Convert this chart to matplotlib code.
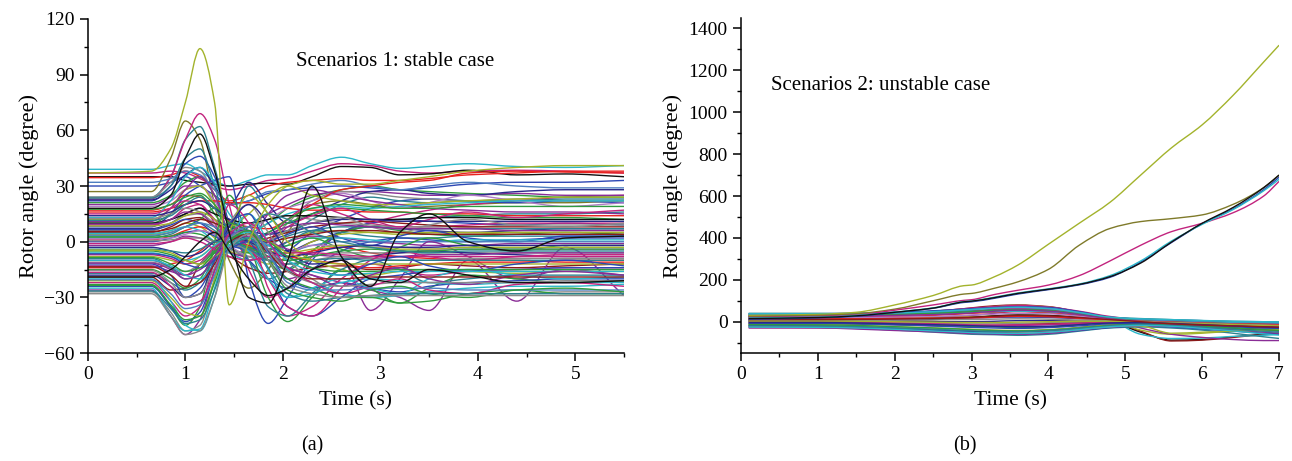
import numpy as np
import matplotlib
matplotlib.use("Agg")
import matplotlib.pyplot as plt
from matplotlib.path import Path
from matplotlib.patches import PathPatch
from matplotlib.ticker import MultipleLocator

plt.rcParams["font.family"] = ["Liberation Serif", "DejaVu Serif"]

# ---- panel (a): stable case, rotor angle (deg) read at these times (s)
time_a = [0, 0.65, 0.85, 1.0, 1.15, 1.3, 1.45, 1.65, 1.85, 2.05, 2.3, 2.6, 2.9, 3.2, 3.5, 3.9, 4.4, 4.9, 5.5]

angles_a_upper = [
    [39, 39, 41, 42, 38, 33, 30, 33, 36, 36, 41, 45.5, 42, 39.5, 40.5, 42, 40.5, 40, 41],
    [37, 37, 38, 37, 34, 30, 28, 30, 33, 34, 38, 42, 41, 38, 37, 38, 38.5, 38, 37],
    [35, 35, 35, 33, 32, 31, 30, 31, 31.5, 31, 35, 40.5, 40, 36, 36.5, 38.5, 36, 36.5, 35],
    [34.5, 34.5, 36, 38, 35, 28, 22, 25, 30, 32, 33, 34, 33, 33, 34, 36, 37, 38, 38],
    [30, 30, 32, 35, 30, 25, 20, 22, 26, 28, 29, 30, 29, 28, 29, 31, 32, 32, 33],
    [27, 27, 45, 65, 55, 20, -10, -25, -15, 5, 20, 22, 20, 18, 19, 20, 21, 21, 22],
    [24, 24, 35, 55, 62, 40, 10, -10, -20, -15, -5, 5, 10, 12, 13, 14, 15, 15, 16],
    [23, 23, 35, 55, 69, 55, 20, -15, -30, -25, -8, 5, 10, 14, 17, 20, 22, 24, 25],
    [22, 22, 30, 42, 46, 35, 10, -5, -10, -5, 5, 12, 18, 22, 23, 22, 21, 22, 21],
    [21, 21, 25, 32, 35, 25, 10, 5, 10, 18, 24, 28, 30, 28, 27, 26, 25, 24, 24],
    [20, 20, 24, 30, 30, 22, 12, 10, 15, 20, 25, 27, 27, 26, 25, 25, 26, 25, 25],
    [24, 24, 32, 40, 38, 25, 5, -5, 0, 10, 22, 27, 26, 24, 23, 22, 23, 22, 22],
    [22.5, 22.5, 28, 36, 40, 30, 20, 32, 20, 10, 15, 22, 27, 28, 26, 25, 27, 28, 28],
    [23.5, 23.5, 30, 45, 50, 30, 5, 30, 15, 5, 12, 20, 24, 22, 21, 22, 22, 23, 23],
    [32, 32, 34, 38, 36, 28, 20, 22, 27, 28, 31, 33, 30, 28, 30, 32, 30, 29, 29],
    [19, 19, 22, 28, 30, 22, 12, 8, 12, 18, 22, 26, 22, 18, 21, 25, 22, 19, 21],
]
colors_a_upper = ["C", "M", "K", "R", "B", "H", "T", "M", "B", "G", "P", "Y", "N", "T", "S", "L"]

angles_a_mid = [
    [17, 17, 20, 25, 24, 18, 11, 8, 7, 12, 20, 28, 30, 32, 33, 37, 38, 37.5, 37],
    [16, 16, 18, 20, 22, 22, 21, 21, 20, 18, 17, 17, 16, 16, 15, 15, 14, 14, 14],
    [8, 8, 15, 25, 30, 33, 35, -20, -44, -30, -10, 5, 10, 12, 11, 10, 9, 10, 9],
    [12, 12, 18, 28, 30, 20, 8, 15, 25, 30, 25, 22, 20, 20, 21, 22, 23, 24, 24],
    [10, 10, 15, 22, 25, 15, 5, 0, 5, 10, 15, 18, 17, 16, 15, 14, 13, 13, 12],
    [11, 11, 18, 28, 35, 25, 5, 0, 15, 25, 28, 25, 22, 20, 18, 17, 16, 16, 15],
    [13, 13, 22, 35, 40, 32, 15, 5, 10, 15, 18, 19, 18, 19, 20, 21, 22, 22, 22],
    [9, 9, 12, 18, 20, 10, -5, -10, 0, 12, 20, 15, 10, 8, 8, 9, 10, 10, 10],
    [7, 7, 10, 15, 18, 12, 8, 5, 0, -5, 0, 5, 8, 7, 6, 5, 6, 7, 7],
    [6, 6, 10, 14, 15, 10, 6, 8, 12, 14, 12, 10, 9, 8, 8, 8, 9, 9, 9],
    [5, 5, 8, 12, 13, 8, 3, 0, 2, 5, 8, 10, 11, 10, 9, 8, 8, 8, 8],
    [4, 4, 6, 10, 8, 2, -5, -8, -5, 0, 5, 6, 5, 4, 4, 4, 5, 5, 5],
    [3, 3, 5, 8, 12, 18, 10, 0, -10, -15, -5, 5, 8, 6, 4, 3, 4, 5, 4],
    [2, 2, 4, 8, 10, 6, 0, -5, -2, 3, 6, 5, 3, 2, 2, 3, 3, 3, 3],
    [1, 1, 3, 6, 8, 5, 0, -3, -6, -8, -5, -3, -6, -8, -9, -10, -10, -11, -11],
    [0, 0, 2, 5, 6, 3, -3, -10, -20, -25, -15, -5, 0, 2, 1, 0, 1, 2, 2],
    [-2, -2, 0, 3, 2, -2, -6, -8, -5, 0, 3, 2, 0, -1, -2, -2, -1, -1, -1],
    [10, 10, 12, 15, 18, 15, 12, 10, 12, 14, 14, 13, 12, 12, 13, 13, 12, 12, 12],
    [17.5, 17.5, 20, 24, 26, 20, 10, 2, 5, 12, 18, 20, 19, 18, 18, 19, 19, 19, 19],
    [15, 15, 18, 22, 20, 12, 2, -5, -2, 8, 14, 18, 12, 8, 12, 16, 13, 15, 17],
    [14, 14, 16, 20, 22, 18, 12, 6, 4, 6, 10, 12, 12, 11, 11, 11, 11, 11, 11],
    [12.5, 12.5, 15, 18, 16, 8, 0, -4, 0, 6, 10, 13, 8, 5, 9, 12, 9, 8, 10],
    [11.5, 11.5, 14, 20, 24, 18, 6, -2, -6, 0, 6, 8, 8, 7, 7, 7, 7, 7, 7],
    [9.5, 9.5, 12, 16, 15, 8, 2, 0, 4, 8, 10, 9, 8, 7, 7, 7, 6, 6, 6],
    [8.5, 8.5, 10, 14, 16, 12, 4, -6, -12, -8, 0, 4, 5, 5, 5, 5, 5, 5, 5],
    [6.5, 6.5, 9, 12, 10, 4, -2, -4, 0, 4, 8, 2, -2, 3, 6, 2, 0, 3, 3],
    [5.5, 5.5, 7, 10, 12, 10, 6, 2, 0, 2, 4, 6, 6, 5, 4, 4, 4, 4, 4],
    [4.5, 4.5, 6, 8, 6, 0, -6, -10, -8, -2, 2, 2, 1, 0, 0, 1, 1, 1, 1],
    [3.5, 3.5, 5, 8, 10, 8, 2, -4, -8, -6, -2, 0, 0, 0, 0, 0, 0, 0, 0],
    [2.5, 2.5, 3, 5, 4, 0, -4, -6, -4, -2, 2, -4, -8, -3, 2, -2, -5, -2, -2],
    [1.5, 1.5, 2, 4, 6, 4, -2, -8, -10, -6, -2, -2, -3, -3, -4, -4, -4, -4, -4],
    [0.5, 0.5, 1, 2, 2, 0, -4, -8, -10, -10, -8, -6, -6, -6, -6, -6, -6, -6, -6],
]
colors_a_mid = ["R", "R", "B", "O", "G", "P", "C", "M", "N", "Y", "W", "O", "G", "T", "R", "B", "P", "K",
                "G", "M", "N", "Y", "T", "P", "O", "B", "W", "C", "S", "G", "L", "Y"]

angles_a_low = [
    [-19, -19, -26, -25, -12, -6, -8, -14, -17, -16, -14, -13, -15, -14, -12, -13, -14, -13, -12],
    [-26, -26, -40, -50, -42, -15, 10, 5, -10, -20, -15, -10, -37, -20, 0, -8, -20, -15, -18],
    [-10, -10, -14, -18, -12, -4, 2, 0, -8, -14, -18, -22, -26, -30, -37, -10, -32, -3, -29],
    [-23, -23, -35, -45, -35, 0, 25, 0, -30, -43, -30, -15, -25, -33, -25, -18, -20, -22, -21],
    [-27, -27, -38, -48, -45, -20, 10, 20, 5, -10, -20, -28, -30, -28, -27, -28, -28, -27, -27],
    [-25, -25, -40, -48, -47, -25, 0, 15, 0, -15, -22, -28, -30, -29, -27, -25, -24, -24, -23],
    [-24, -24, -35, -43, -38, -15, 10, 15, -5, -20, -25, -22, -25, -27, -24, -22, -21, -20, -20],
    [-22, -22, -32, -40, -35, -10, 20, 10, -25, -40, -35, -20, -12, -15, -18, -16, -15, -14, -14],
    [-21, -21, -30, -38, -40, -20, 5, 25, 15, 0, -10, -15, -18, -16, -15, -16, -17, -16, -16],
    [-18, -18, -24, -30, -28, -10, 8, 20, 10, -5, -12, -10, -8, -6, -5, -6, -7, -8, -8],
    [-17, -17, -22, -26, -22, -8, 5, -10, -35, -40, -28, -15, -10, -15, -22, -20, -18, -18, -18],
    [-15, -15, -20, -25, -20, -5, 10, 5, -10, -20, -25, -30, -30, -33, -32, -28, -26, -28, -28],
    [-14, -14, -12, -10, -5, 0, 0, -2, -5, -8, -10, -12, -14, -13, -12, -11, -11, -10, -10],
    [-13, -13, -16, -18, -15, -8, 0, 3, 0, -4, -7, -8, -9, -8, -7, -7, -6, -6, -6],
    [-12, -12, -18, -30, -25, -10, 5, 0, -15, -35, -40, -30, -20, -18, -16, -15, -15, -14, -14],
    [-11, -11, -14, -16, -12, -5, 0, -5, -10, -12, -10, -8, -9, -10, -10, -9, -9, -9, -9],
    [-8, -8, -10, -12, -8, -2, 3, 0, -5, -6, -4, -2, -3, -4, -4, -3, -3, -3, -3],
    [-7, -7, -9, -12, -10, -3, 2, -3, -20, -35, -40, -25, -10, -5, -8, -10, -8, -7, -7],
    [-6, -6, -8, -10, -8, -2, 2, -5, -20, -30, -25, -20, -25, -28, -20, -15, -18, -20, -19],
    [-5, -5, -7, -10, -12, -5, 0, -3, -8, -10, -8, -5, -4, -5, -5, -4, -4, -4, -4],
    [-3, -3, -5, -8, -6, 0, 3, 0, -5, -8, -6, -3, -2, -3, -3, -2, -2, -2, -2],
    [-9, -9, -14, -20, -18, -10, -2, 8, 15, 12, 5, 0, -3, -5, -6, -5, -5, -5, -5],
    [-20, -20, -32, -45, -48, -30, 0, 5, -15, -30, -28, -22, -20, -21, -22, -23, -22, -22, -22],
    [-1, -1, 0, 2, 0, -4, -8, -10, -8, -6, -6, -7, -8, -8, -8, -8, -8, -8, -8],
    [-4, -4, -5, -6, -4, 0, 0, -4, -10, -12, -10, -9, -10, -10, -10, -10, -10, -10, -10],
    [-4.5, -4.5, -6, -10, -12, -8, -2, 2, 0, -6, -10, -12, -12, -12, -12, -12, -12, -12, -12],
    [-6.5, -6.5, -8, -12, -14, -10, -4, 0, -2, -8, -14, -18, -12, -8, -13, -16, -12, -10, -13],
    [-8.5, -8.5, -12, -16, -14, -6, 2, 4, 0, -8, -14, -16, -16, -15, -15, -15, -15, -15, -15],
    [-10, -10, -13, -18, -20, -12, -2, 2, -2, -10, -16, -18, -17, -16, -16, -16, -16, -16, -16],
    [-11.5, -11.5, -15, -20, -18, -8, 4, 6, -4, -14, -18, -24, -18, -14, -20, -23, -18, -16, -18],
    [-13.5, -13.5, -18, -24, -22, -12, 0, 4, -6, -16, -20, -20, -19, -19, -19, -19, -19, -19, -19],
    [-15.5, -15.5, -22, -30, -28, -14, 2, 6, -4, -16, -22, -24, -23, -22, -22, -22, -22, -21, -21],
    [-16.5, -16.5, -24, -34, -32, -16, 4, 10, 0, -14, -22, -28, -24, -20, -26, -28, -23, -22, -24],
    [-20.5, -20.5, -28, -36, -34, -18, 2, 8, -6, -22, -26, -26, -25, -25, -25, -26, -26, -26, -26],
    [-23.5, -23.5, -34, -42, -40, -22, 0, 6, -10, -26, -30, -32, -26, -24, -28, -30, -26, -25, -27],
    [-26.5, -26.5, -36, -44, -42, -26, -4, 2, -14, -28, -32, -30, -29, -28, -28, -28, -28, -28, -28],
    [-28, -28, -40, -50, -48, -30, -4, 4, -10, -24, -28, -30, -29, -29, -29, -29, -29, -29, -29],
]
colors_a_low = ["W", "P", "P", "G", "Y", "C", "B", "M", "O", "N", "T", "G", "R", "P",
                "B", "Y", "O", "M", "C", "G", "N", "T", "C",
                "M", "T", "O", "B", "G", "C", "P", "W", "Y", "M", "S", "G", "T", "Y", "L"]

# lines drawn on top in panel (a)
angles_a_front = [
    [37, 38, 50, 75, 104, 75, -34, 0, 20, 30, 33, 31, 31, 33, 35, 38, 40, 41, 41],
    [18, 18, 25, 45, 58, 38, 5, -30, -33, -10, 30, -8, -24, 5, 15, 0, -5, 2, 3],
    [-19, -19, -15, -8, 0, 5, -5, -20, -29, -25, -15, -10, -20, -22, -15, -18, -22, -22, -21],
]
colors_a_front = ["O", "K", "K"]

# ---- panel (b): unstable case
time_b = [0.1, 1.0, 1.5, 2.0, 2.5, 2.9, 3.0, 3.3, 3.6, 4.0, 4.4, 4.8, 5.2, 5.6, 6.0, 6.4, 6.8, 7.0]

angles_b_band = [
    [20, 22, 26, 32, 42, 55, 58, 70, 75, 65, 40, 5, -50, -88, -85, -72, -60, -55],
    [25, 27, 30, 38, 50, 62, 66, 76, 80, 72, 45, 8, -45, -92, -88, -75, -62, -58],
    [30, 30, 32, 36, 45, 56, 60, 70, 74, 68, 45, 10, -60, -80, -78, -70, -65, -60],
    [22, 24, 28, 34, 44, 58, 60, 72, 78, 70, 40, 12, -40, -60, -55, -45, -40, -38],
    [10, 12, 14, 18, 22, 28, 30, 40, 50, 45, 30, 10, -30, -60, -75, -85, -90, -90],
    [35, 35, 38, 42, 50, 62, 65, 72, 78, 70, 50, 25, 10, 5, 0, -5, -8, -10],
    [38, 38, 40, 45, 52, 60, 62, 68, 72, 68, 48, 22, 12, 8, 5, 0, -2, -3],
    [40, 40, 40, 42, 45, 50, 52, 55, 60, 58, 40, 20, 15, 10, 5, 2, 0, -2],
    [32, 32, 34, 38, 42, 48, 50, 55, 58, 55, 38, 18, 5, -5, -10, -12, -15, -15],
    [15, 15, 16, 18, 20, 22, 22, 24, 25, 22, 15, 8, 0, -5, -10, -15, -20, -22],
    [5, 5, 4, 2, 0, 0, 0, 2, 5, 5, 3, 0, -3, -6, -8, -10, -12, -12],
    [0, 0, -2, -5, -8, -10, -10, -10, -8, -5, -3, -2, -5, -10, -15, -20, -25, -28],
    [-5, -5, -8, -12, -15, -18, -18, -18, -15, -10, -8, -5, -10, -20, -30, -35, -40, -40],
    [-25, -28, -32, -40, -50, -58, -60, -62, -65, -60, -45, -30, -25, -30, -40, -55, -72, -80],
    [-20, -22, -28, -38, -45, -52, -54, -58, -60, -55, -42, -28, -20, -25, -35, -45, -55, -60],
    [-15, -18, -22, -30, -38, -45, -48, -52, -50, -42, -30, -20, -15, -18, -25, -30, -35, -38],
    [-30, -30, -35, -42, -48, -55, -56, -58, -60, -55, -40, -25, -20, -22, -30, -40, -50, -55],
    [-28, -28, -30, -35, -40, -45, -46, -48, -48, -45, -35, -22, -18, -20, -25, -30, -35, -35],
    [12, 12, 12, 14, 18, 22, 23, 28, 32, 30, 20, 8, -5, -15, -20, -22, -25, -25],
    [2, 2, 3, 5, 10, 18, 20, 28, 32, 30, 20, 10, 0, -8, -12, -15, -18, -18],
    [8, 8, 10, 12, 15, 18, 18, 20, 22, 20, 15, 10, 5, 0, -5, -8, -10, -10],
    [18, 18, 20, 24, 30, 38, 40, 45, 48, 42, 28, 12, 0, -8, -10, -12, -14, -15],
    [28, 28, 30, 34, 40, 48, 50, 60, 65, 60, 42, 20, 5, -5, -12, -15, -18, -20],
    [-10, -10, -12, -15, -20, -22, -22, -20, -18, -15, -10, -5, -8, -12, -18, -25, -30, -32],
    [-8, -8, -10, -14, -18, -22, -22, -25, -28, -25, -15, -5, -2, -5, -10, -15, -20, -22],
    [-22, -24, -28, -35, -42, -48, -50, -52, -55, -50, -38, -25, -18, -15, -20, -25, -30, -32],
    [-18, -20, -25, -32, -40, -45, -46, -48, -45, -40, -28, -15, -10, -15, -22, -30, -40, -45],
    [24, 24, 26, 30, 36, 45, 48, 58, 65, 60, 42, 18, 0, -10, -15, -20, -22, -22],
    [-12, -14, -18, -24, -30, -35, -36, -40, -42, -38, -28, -15, -20, -55, -50, -45, -40, -38],
    [36, 36, 36, 38, 40, 44, 45, 48, 50, 48, 35, 15, 8, 2, -2, -5, -6, -6],
    [34, 34, 36, 40, 46, 55, 58, 66, 70, 64, 44, 18, 8, 2, -4, -8, -10, -12],
    [28, 29, 31, 35, 40, 46, 48, 54, 56, 52, 36, 16, 4, -2, -6, -10, -14, -16],
    [20, 20, 20, 22, 25, 30, 32, 36, 40, 38, 26, 12, 2, -4, -8, -12, -16, -18],
    [14, 14, 14, 15, 16, 18, 18, 22, 26, 24, 16, 8, 2, -2, -6, -10, -12, -14],
    [6, 6, 6, 7, 8, 10, 10, 12, 14, 12, 8, 4, 0, -4, -8, -12, -16, -18],
    [-2, -2, -3, -6, -10, -14, -15, -16, -15, -12, -8, -4, -6, -10, -14, -18, -22, -24],
    [-8, -8, -10, -14, -20, -26, -27, -30, -32, -28, -20, -10, -8, -12, -18, -24, -30, -32],
    [-14, -15, -18, -24, -30, -36, -38, -42, -44, -40, -30, -18, -12, -16, -22, -30, -38, -42],
    [-20, -21, -24, -30, -36, -42, -44, -46, -47, -42, -32, -20, -14, -18, -26, -36, -46, -50],
    [-26, -27, -30, -36, -44, -50, -52, -55, -56, -50, -38, -24, -18, -22, -32, -44, -58, -64],
    [26, 26, 27, 30, 34, 40, 42, 50, 55, 50, 34, 14, 0, -10, -16, -20, -24, -26],
    [3, 3, 2, 0, -2, -4, -4, -4, -2, 0, 2, 2, -2, -6, -10, -14, -18, -20],
    [-4, -4, -6, -10, -14, -18, -19, -22, -24, -22, -14, -6, -4, -8, -14, -20, -26, -28],
    [38, 38, 39, 42, 48, 56, 58, 64, 68, 62, 44, 22, 14, 10, 6, 2, 0, -1],
    [10, 10, 11, 13, 16, 20, 21, 26, 30, 28, 20, 10, 0, -10, -16, -20, -24, -26],
]
colors_b_band = ["K", "W", "C", "O", "P", "M", "B", "T", "G", "R", "N", "Y", "W", "T", "B",
                 "G", "P", "M", "O", "K", "B", "R", "T", "P", "G", "Y", "N", "M", "O", "C",
                 "S", "G", "L", "R", "Y", "M", "B", "G", "T", "C", "P", "O", "N", "C", "W"]

angles_b_unstable = [
    [30, 35, 45, 80, 125, 172, 175, 215, 270, 370, 470, 570, 700, 830, 940, 1080, 1240, 1320],
    [25, 30, 38, 60, 100, 132, 135, 160, 190, 250, 365, 445, 478, 492, 510, 560, 640, 700],
    [20, 25, 32, 55, 80, 102, 105, 130, 150, 175, 220, 290, 365, 430, 470, 520, 600, 670],
    [12, 18, 26, 44, 64, 92, 95, 112, 132, 153, 176, 212, 285, 378, 468, 538, 630, 690],
    [18, 22, 30, 46, 66, 96, 99, 117, 137, 157, 180, 220, 290, 385, 465, 535, 625, 680],
    [15, 20, 28, 45, 65, 95, 98, 115, 135, 155, 178, 215, 280, 380, 470, 545, 640, 700],
]
colors_b_unstable = ["O", "H", "M", "B", "C", "K"]

palette = {
    "K": "#111111", "R": "#e8231f", "B": "#2d48b4", "G": "#2f9b3e", "M": "#c2247e",
    "C": "#2cb7c9", "O": "#a3b32c", "H": "#7f7a2a", "N": "#28288a", "P": "#8a2d96",
    "W": "#8b1a1a", "T": "#2c8290", "Y": "#8a8a8a", "L": "#b07cc6", "S": "#4f7fc0",
}


def smooth_curve(ax, t, y, color):
    """Draw a curve through the read points as cubic Bezier segments (shape-preserving tangents)."""
    t = np.asarray(t, float)
    y = np.asarray(y, float)
    h = np.diff(t)
    d = np.diff(y) / h
    m = np.zeros_like(y)
    for i in range(1, len(y) - 1):
        if d[i - 1] * d[i] > 0:
            w1 = 2 * h[i] + h[i - 1]
            w2 = h[i] + 2 * h[i - 1]
            m[i] = (w1 + w2) / (w1 / d[i - 1] + w2 / d[i])
    m[0], m[-1] = d[0], d[-1]
    verts = [(t[0], y[0])]
    codes = [Path.MOVETO]
    for i in range(len(h)):
        verts += [(t[i] + h[i] / 3, y[i] + m[i] * h[i] / 3),
                  (t[i + 1] - h[i] / 3, y[i + 1] - m[i + 1] * h[i] / 3),
                  (t[i + 1], y[i + 1])]
        codes += [Path.CURVE4] * 3
    ax.add_patch(PathPatch(Path(verts, codes), facecolor="none", edgecolor=color, lw=1.0))


def style_axes(ax, xmax, ymin, ymax, ymajor, yminor):
    ax.set_xlim(0, xmax)
    ax.set_ylim(ymin, ymax)
    ax.xaxis.set_major_locator(MultipleLocator(1))
    ax.xaxis.set_minor_locator(MultipleLocator(0.5))
    ax.yaxis.set_major_locator(MultipleLocator(ymajor))
    ax.yaxis.set_minor_locator(MultipleLocator(yminor))
    for side in ("top", "right"):
        ax.spines[side].set_visible(False)
    for side in ("left", "bottom"):
        ax.spines[side].set_linewidth(1.1)
    ax.tick_params(which="major", direction="out", length=6, width=1.1, labelsize=14)
    ax.tick_params(which="minor", direction="out", length=3, width=1.0)
    ax.set_xlabel("Time (s)", fontsize=15.5, labelpad=6)
    ax.set_ylabel("Rotor angle (degree)", fontsize=16, labelpad=4)


fig = plt.figure(figsize=(12.92, 4.61), dpi=100)
ax1 = fig.add_axes([0.068, 0.234, 0.415, 0.725])
ax2 = fig.add_axes([0.5735, 0.234, 0.4165, 0.727])

for rows, cols in ((angles_a_upper, colors_a_upper), (angles_a_mid, colors_a_mid),
                   (angles_a_low, colors_a_low), (angles_a_front, colors_a_front)):
    for y, c in zip(rows, cols):
        smooth_curve(ax1, time_a, y, palette[c])

for rows, cols in ((angles_b_band, colors_b_band), (angles_b_unstable, colors_b_unstable)):
    for y, c in zip(rows, cols):
        smooth_curve(ax2, time_b, y, palette[c])

style_axes(ax1, 5.5, -60, 120, 30, 15)
style_axes(ax2, 7, -150, 1450, 200, 100)
ax1.set_yticklabels([f"{int(v)}".replace("-", "\u2212") for v in ax1.get_yticks()])

ax1.text(2.13, 96.8, "Scenarios 1: stable case", fontsize=15, va="center")
ax2.text(0.39, 1126, "Scenarios 2: unstable case", fontsize=15, va="center")

fig.text(0.242, 0.032, "(a)", fontsize=14.5, ha="center", va="center")
fig.text(0.747, 0.032, "(b)", fontsize=14.5, ha="center", va="center")

fig.savefig("out.png", dpi=100)
